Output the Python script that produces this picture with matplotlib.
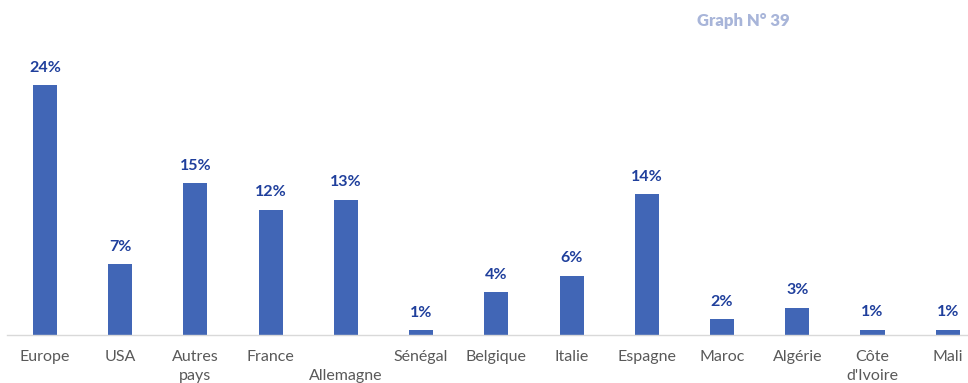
import matplotlib.pyplot as plt

# Données (hauteurs, étiquettes arrondies affichées)
categories = ["Europe", "USA", "Autres\npays", "France", "\nAllemagne", "Sénégal",
              "Belgique", "Italie", "Espagne", "Maroc", "Algérie", "Côte\nd'Ivoire", "Mali"]
values = [24.2, 6.8, 14.7, 12.1, 13.1, 0.42, 4.1, 5.7, 13.6, 1.5, 2.6, 0.45, 0.45]
value_labels = ["24%", "7%", "15%", "12%", "13%", "1%", "4%", "6%", "14%", "2%", "3%", "1%", "1%"]

plt.rcParams["font.family"] = ["Lato", "DejaVu Sans"]

W, H = 968, 383
fig = plt.figure(figsize=(W / 100, H / 100), dpi=100)
ax = fig.add_axes([7.4 / W, 48.5 / H, (W - 7.4) / W, (334.5 - 40) / H])

x = range(len(categories))
bars = ax.bar(x, values, width=0.32, color="#4166B6", zorder=2)

for b, lab in zip(bars, value_labels):
    ax.annotate(lab, (b.get_x() + b.get_width() / 2, b.get_height()),
                xytext=(0, 7.5), textcoords="offset points", ha="center", va="bottom",
                fontsize=11.5, fontweight="bold", color="#1F3F9C")

ax.set_xlim(-0.5, 12.27)
ax.set_ylim(0, 294.5 / 10.3)
ax.set_xticks(list(x))
ax.set_xticklabels(categories, fontsize=11.5, color="#595959", linespacing=1.45)
ax.tick_params(axis="x", length=0, pad=11)
ax.set_yticks([])

for s in ["top", "right", "left"]:
    ax.spines[s].set_visible(False)
ax.spines["bottom"].set_color("#D9D9D9")
ax.spines["bottom"].set_linewidth(1)

fig.text(743 / W, 1 - 21 / H, "Graph N° 39", ha="center", va="center",
         fontsize=12, fontweight="heavy", color="#A8B5D9")

fig.savefig("out.png", dpi=100)
